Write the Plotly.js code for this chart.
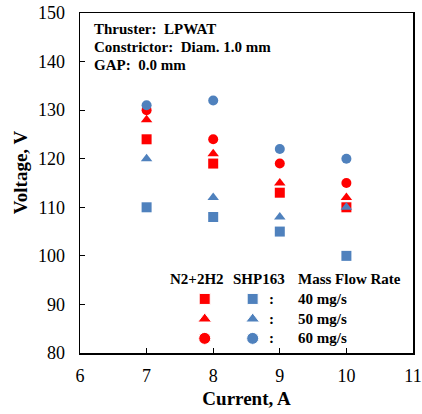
<!DOCTYPE html>
<html>
<head>
<meta charset="utf-8">
<script src="https://cdn.plot.ly/plotly-3.0.1.min.js"></script>
<style>html,body{margin:0;padding:0;background:#fff;}#chart{width:422px;height:414px;}</style>
</head>
<body>
<div id="chart"></div>
<script>
// Data
const current = [7, 8, 9, 10];
const n2h2_40 = [124, 119, 113, 110];
const n2h2_50 = [128, 121, 115, 112];
const n2h2_60 = [130, 124, 119, 115];
const shp_40 = [110, 108, 105, 100];
const shp_50 = [120, 112, 108, 110];
const shp_60 = [131, 132, 122, 120];
const flowLabels = ['40 mg/s', '50 mg/s', '60 mg/s'];
const infoLines = ['Thruster:  LPWAT', 'Constrictor:  Diam. 1.0 mm', 'GAP:  0.0 mm'];
const legendHeaders = ['N2+2H2', 'SHP163', 'Mass Flow Rate'];

const RED = '#FF0000';
const BLUE = '#4F81BD';
const FONT = 'Times New Roman, Liberation Serif, Times, DejaVu Serif, serif';

function pts(y, color, symbol) {
  return {x: current, y: y, type: 'scatter', mode: 'markers', showlegend: false,
    marker: {color: color, symbol: symbol, size: 10, opacity: 1}, hoverinfo: 'x+y'};
}

const traces = [
  pts(n2h2_40, RED, 'square'), pts(n2h2_50, RED, 'triangle-up'), pts(n2h2_60, RED, 'circle'),
  pts(shp_40, BLUE, 'square'), pts(shp_50, BLUE, 'triangle-up'), pts(shp_60, BLUE, 'circle')
];

// Legend keys drawn on a hidden overlay axis (0..1 box coordinates)
const keyRowY = [0.159, 0.100, 0.043];
const keySymbols = ['square', 'triangle-up', 'circle'];
const keyColX = [0.3745, 0.5185];
[RED, BLUE].forEach((c, ci) => {
  traces.push({x: keyRowY.map(() => keyColX[ci]), y: keyRowY, xaxis: 'x2', yaxis: 'y2',
    type: 'scatter', mode: 'markers', showlegend: false, hoverinfo: 'skip',
    marker: {color: c, symbol: keySymbols, size: [11, 12, 12], opacity: 1}});
});

const annotations = [];
infoLines.forEach((t, i) => annotations.push({xref: 'paper', yref: 'paper', x: 0.036, y: [0.952, 0.901, 0.848][i],
  xanchor: 'left', yanchor: 'middle', text: '<b>' + t + '</b>', showarrow: false,
  font: {family: FONT, size: 15, color: '#000'}}));
const hdrX = [0.352, 0.538, 0.649];
const hdrAnchor = ['center', 'center', 'left'];
legendHeaders.forEach((t, i) => annotations.push({xref: 'paper', yref: 'paper', x: hdrX[i], y: 0.219,
  xanchor: hdrAnchor[i], yanchor: 'middle', text: '<b>' + t + '</b>', showarrow: false,
  font: {family: FONT, size: 15, color: '#000'}}));
flowLabels.forEach((t, i) => {
  const yy = keyRowY[i];
  annotations.push({xref: 'paper', yref: 'paper', x: 0.576, y: yy, xanchor: 'center', yanchor: 'middle',
    text: '<b>:</b>', showarrow: false, font: {family: FONT, size: 15, color: '#000'}});
  annotations.push({xref: 'paper', yref: 'paper', x: 0.65, y: yy, xanchor: 'left', yanchor: 'middle',
    text: '<b>' + t + '</b>', showarrow: false, font: {family: FONT, size: 15, color: '#000'}});
});
// y-axis title (placed slightly above centre as in the reference)
annotations.push({xref: 'paper', yref: 'paper', x: -0.18, y: 0.532, xanchor: 'center', yanchor: 'middle',
  textangle: -90, text: '<b>Voltage, V</b>', showarrow: false, font: {family: FONT, size: 19, color: '#000'}});

const layout = {
  width: 422, height: 414,
  margin: {l: 80, r: 9, t: 13, b: 61},
  paper_bgcolor: '#fff', plot_bgcolor: '#fff',
  showlegend: false,
  font: {family: FONT, color: '#000'},
  xaxis: {range: [6, 11], dtick: 1, tick0: 6, showgrid: false, zeroline: false,
    showline: true, linecolor: '#000', linewidth: 1.5, mirror: true,
    ticks: 'inside', ticklen: 5, tickcolor: '#000', tickwidth: 1,
    tickfont: {family: FONT, size: 18, color: '#000'}, ticklabelstandoff: 6,
    title: {text: '<b>Current, A</b>', font: {family: FONT, size: 19, color: '#000'}, standoff: 6}},
  yaxis: {range: [80, 150], dtick: 10, tick0: 80, showgrid: false, zeroline: false,
    showline: true, linecolor: '#000', linewidth: 1.5, mirror: true,
    ticks: 'inside', ticklen: 5, tickcolor: '#000', tickwidth: 1,
    tickfont: {family: FONT, size: 18, color: '#000'}, ticklabelstandoff: 10},
  xaxis2: {range: [0, 1], overlaying: 'x', visible: false, fixedrange: true},
  yaxis2: {range: [0, 1], overlaying: 'y', visible: false, fixedrange: true},
  annotations: annotations
};

Plotly.newPlot('chart', traces, layout, {displayModeBar: false, staticPlot: true});
</script>
</body>
</html>
